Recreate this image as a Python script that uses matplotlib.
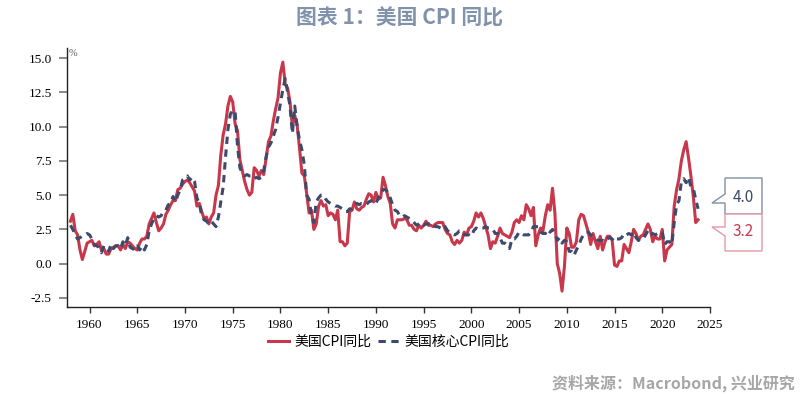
import numpy as np
import matplotlib
matplotlib.use("Agg")
import matplotlib.pyplot as plt
from matplotlib.patches import Polygon

# quarterly samples (Jan, Apr, Jul, Oct), 1958 - 2023, YoY %
cpi = [
    3.1, 3.6, 2.4, 2.1,   # 1958
    1.0, 0.3, 0.9, 1.5,   # 1959
    1.6, 1.7, 1.3, 1.4,   # 1960
    1.6, 1.0, 1.1, 0.7,   # 1961
    0.7, 1.1, 1.2, 1.3,   # 1962
    1.3, 1.0, 1.4, 1.1,   # 1963
    1.6, 1.5, 1.3, 1.1,   # 1964
    1.0, 1.5, 1.8, 1.8,   # 1965
    2.0, 2.9, 3.3, 3.7,   # 1966
    3.0, 2.4, 2.6, 2.9,   # 1967
    3.6, 3.9, 4.3, 4.6,   # 1968
    4.6, 5.4, 5.5, 5.8,   # 1969
    6.0, 6.1, 5.9, 5.6,   # 1970
    5.3, 4.2, 4.4, 3.8,   # 1971
    3.3, 3.4, 2.9, 3.4,   # 1972
    3.7, 5.0, 5.7, 7.9,   # 1973
    9.4, 10.2, 11.5, 12.2,  # 1974
    11.8, 10.2, 9.7, 7.6,   # 1975
    6.8, 6.0, 5.4, 5.0,   # 1976
    5.2, 7.0, 6.8, 6.4,   # 1977
    6.8, 6.5, 7.7, 8.9,   # 1978
    9.3, 10.4, 11.3, 12.1,  # 1979
    13.9, 14.7, 13.1, 12.8,  # 1980
    11.8, 10.0, 10.8, 10.1,  # 1981
    8.4, 6.6, 6.4, 5.1,   # 1982
    3.7, 3.9, 2.5, 2.9,   # 1983
    4.2, 4.6, 4.2, 4.3,   # 1984
    3.5, 3.7, 3.6, 3.2,   # 1985
    3.9, 1.6, 1.6, 1.3,   # 1986
    1.5, 3.8, 3.9, 4.5,   # 1987
    4.0, 3.9, 4.1, 4.2,   # 1988
    4.7, 5.1, 5.0, 4.5,   # 1989
    5.2, 4.7, 4.8, 6.3,   # 1990
    5.7, 4.9, 4.4, 2.9,   # 1991
    2.6, 3.2, 3.2, 3.2,   # 1992
    3.3, 3.2, 2.8, 2.8,   # 1993
    2.5, 2.4, 2.8, 2.6,   # 1994
    2.8, 3.1, 2.8, 2.8,   # 1995
    2.7, 2.9, 3.0, 3.0,   # 1996
    3.0, 2.5, 2.2, 2.1,   # 1997
    1.6, 1.4, 1.7, 1.5,   # 1998
    1.7, 2.3, 2.1, 2.6,   # 1999
    2.7, 3.1, 3.7, 3.4,   # 2000
    3.7, 3.3, 2.7, 2.1,   # 2001
    1.1, 1.6, 1.5, 2.0,   # 2002
    2.6, 2.2, 2.1, 2.0,   # 2003
    1.9, 2.3, 3.0, 3.2,   # 2004
    3.0, 3.5, 3.2, 4.3,   # 2005
    4.0, 3.5, 4.1, 1.3,   # 2006
    2.1, 2.6, 2.4, 3.5,   # 2007
    4.3, 3.9, 5.5, 3.7,   # 2008
    0.0, -0.7, -2.0, -0.2,  # 2009
    2.6, 2.2, 1.2, 1.2,   # 2010
    1.6, 3.2, 3.6, 3.5,   # 2011
    2.9, 2.3, 1.4, 2.2,   # 2012
    1.6, 1.1, 2.0, 1.0,   # 2013
    1.6, 2.0, 2.0, 1.7,   # 2014
    -0.1, -0.2, 0.2, 0.2,  # 2015
    1.4, 1.1, 0.8, 1.6,   # 2016
    2.5, 2.2, 1.7, 2.0,   # 2017
    2.1, 2.5, 2.9, 2.5,   # 2018
    1.6, 2.0, 1.8, 1.8,   # 2019
    2.5, 0.2, 1.0, 1.2,   # 2020
    1.4, 4.2, 5.4, 6.2,   # 2021
    7.5, 8.3, 8.9, 7.7,   # 2022
    6.4, 4.9, 3.0, 3.2,   # 2023
]

core_cpi = [
    2.8, 2.5, 2.1, 1.8,   # 1958
    1.9, 2.0, 2.1, 2.2,   # 1959
    2.1, 1.8, 1.4, 1.3,   # 1960
    1.2, 0.8, 1.3, 1.1,   # 1961
    0.9, 1.4, 1.1, 1.3,   # 1962
    1.3, 1.1, 1.6, 1.3,   # 1963
    1.9, 1.2, 1.1, 1.0,   # 1964
    1.3, 1.0, 1.3, 1.0,   # 1965
    1.4, 2.4, 2.9, 3.3,   # 1966
    3.5, 3.4, 3.5, 3.8,   # 1967
    3.9, 4.3, 4.4, 4.9,   # 1968
    4.5, 5.0, 5.4, 6.1,   # 1969
    6.2, 6.4, 6.1, 6.3,   # 1970
    6.0, 4.8, 4.4, 3.5,   # 1971
    3.2, 3.1, 2.9, 3.1,   # 1972
    2.9, 2.7, 3.4, 4.5,   # 1973
    5.6, 7.8, 9.8, 10.9,  # 1974
    11.2, 11.1, 8.6, 7.0,  # 1975
    6.6, 6.4, 6.5, 6.4,   # 1976
    6.4, 6.2, 6.3, 6.2,   # 1977
    6.3, 6.8, 7.8, 8.5,   # 1978
    8.8, 9.3, 9.8, 10.7,  # 1979
    11.7, 12.7, 13.5, 12.5,  # 1980
    11.5, 9.5, 11.5, 10.0,  # 1981
    9.0, 8.3, 7.2, 5.0,   # 1982
    4.7, 3.5, 3.0, 4.5,   # 1983
    4.8, 5.0, 5.0, 4.7,   # 1984
    4.5, 4.4, 4.3, 4.2,   # 1985
    4.2, 4.1, 4.0, 3.8,   # 1986
    3.8, 4.0, 4.0, 4.2,   # 1987
    4.4, 4.3, 4.4, 4.4,   # 1988
    4.3, 4.5, 4.6, 4.4,   # 1989
    4.4, 4.8, 5.0, 5.4,   # 1990
    5.4, 5.2, 4.8, 4.3,   # 1991
    3.9, 3.8, 3.5, 3.4,   # 1992
    3.5, 3.4, 3.3, 3.2,   # 1993
    3.0, 2.8, 2.9, 3.0,   # 1994
    2.8, 2.9, 2.9, 3.0,   # 1995
    2.9, 2.7, 2.7, 2.6,   # 1996
    2.5, 2.7, 2.4, 2.3,   # 1997
    2.2, 2.1, 2.2, 2.4,   # 1998
    2.4, 2.1, 2.1, 2.1,   # 1999
    2.0, 2.4, 2.6, 2.5,   # 2000
    2.6, 2.6, 2.7, 2.6,   # 2001
    2.6, 2.5, 2.2, 2.2,   # 2002
    1.9, 1.5, 1.5, 1.3,   # 2003
    1.1, 1.8, 1.8, 2.0,   # 2004
    2.3, 2.2, 2.1, 2.1,   # 2005
    2.1, 2.3, 2.7, 2.7,   # 2006
    2.7, 2.3, 2.2, 2.2,   # 2007
    2.5, 2.3, 2.5, 2.2,   # 2008
    1.7, 1.9, 1.5, 1.7,   # 2009
    1.6, 0.9, 0.9, 0.6,   # 2010
    1.0, 1.3, 1.8, 2.1,   # 2011
    2.3, 2.3, 2.1, 2.0,   # 2012
    1.9, 1.7, 1.7, 1.7,   # 2013
    1.6, 1.8, 1.9, 1.8,   # 2014
    1.6, 1.8, 1.8, 1.9,   # 2015
    2.2, 2.1, 2.2, 2.1,   # 2016
    2.3, 1.9, 1.7, 1.8,   # 2017
    1.8, 2.1, 2.4, 2.1,   # 2018
    2.2, 2.1, 2.2, 2.3,   # 2019
    2.3, 1.4, 1.6, 1.6,   # 2020
    1.4, 3.0, 4.3, 4.6,   # 2021
    6.0, 6.2, 5.9, 6.3,   # 2022
    5.6, 5.5, 4.7, 4.0,   # 2023
]

dates = 1958 + np.arange(len(cpi)) / 4.0
xticks = list(range(1960, 2030, 5))
yticks = [-2.5, 0.0, 2.5, 5.0, 7.5, 10.0, 12.5, 15.0]

red = '#c8374a'
navy = '#3d4a6b'
cjk = ['Noto Sans CJK SC', 'DejaVu Sans']

W, H = 800, 397
fig = plt.figure(figsize=(W / 100, H / 100), dpi=100)
ax = fig.add_axes([67 / W, 1 - 307 / H, (710 - 67) / W, (307 - 48) / H])

ax.plot(dates, cpi, color=red, lw=2.2, label='美国CPI同比', zorder=2)
ax.plot(dates, core_cpi, color=navy, lw=2.2, dashes=(2.4, 1.8),
        label='美国核心CPI同比', zorder=3)

ax.set_xlim(1957.64, 2025.0)
ax.set_ylim(-3.16, 15.73)
ax.set_xticks(xticks)
ax.set_yticks(yticks)
ax.set_yticklabels(['%.1f' % v for v in yticks])
for s in ['top', 'right']:
    ax.spines[s].set_visible(False)
for s in ['left', 'bottom']:
    ax.spines[s].set_linewidth(1.0)
    ax.spines[s].set_color('#222222')
ax.tick_params(axis='y', length=6, width=1.2, color='#777777', pad=5,
               labelsize=9.5, labelfontfamily='Liberation Serif')
ax.tick_params(axis='x', length=4, width=1.0, color='#333333', pad=5,
               labelsize=9.5, labelfontfamily='Liberation Serif')

fig.text(69 / W, 1 - 53 / H, '%', fontsize=7.5, color='#555555',
         family='Liberation Serif', va='center')

leg = ax.legend(loc='upper center', bbox_to_anchor=(0.5, -0.06), ncol=2,
                frameon=False, prop={'family': cjk, 'size': 10},
                handlelength=1.5, handletextpad=0.4, columnspacing=0.5)

fig.text(0.5, 1 - 18 / H, '图表 1：美国 CPI 同比', ha='center', va='center',
         fontsize=15, color='#8193ab', family=cjk, fontweight='bold')
fig.text(795 / W, 1 - 383 / H, '资料来源：Macrobond, 兴业研究', ha='right',
         va='center', fontsize=11.5, color='#a6a6a6', family=cjk,
         fontweight='bold')


def fpt(x, y):
    return (x / W, 1 - y / H)


box40 = [fpt(762, 178), fpt(725, 178), fpt(725, 194), fpt(712, 203),
         fpt(725, 203), fpt(725, 214), fpt(762, 214)]
box32 = [fpt(762, 214), fpt(725, 214), fpt(725, 227), fpt(712, 227),
         fpt(725, 236), fpt(725, 251), fpt(762, 251)]
fig.patches.append(Polygon(box40, closed=True, fc='white', ec='#8090a4',
                           lw=1.0, transform=fig.transFigure))
fig.patches.append(Polygon(box32, closed=True, fc='white', ec='#e49aa5',
                           lw=1.0, transform=fig.transFigure))
fig.text(743 / W, 1 - 197 / H, '4.0', ha='center', va='center', fontsize=11,
         color=navy, family=cjk)
fig.text(743 / W, 1 - 232 / H, '3.2', ha='center', va='center', fontsize=11,
         color=red, family=cjk)

fig.savefig('out.png', dpi=100)
